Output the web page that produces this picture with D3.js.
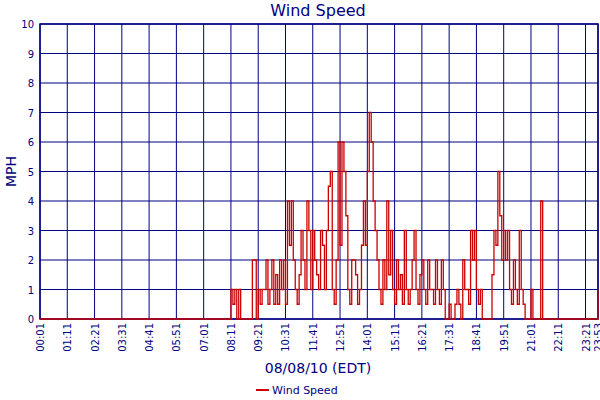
<!DOCTYPE html>
<html><head><style>body{margin:0;background:#fff}text{font-family:"DejaVu Sans",sans-serif}</style></head>
<body><svg width="600" height="400"></svg>
<script src="https://d3js.org/d3.v7.min.js"></script>
<script>
// wind speed readings, 5-minute steps starting 08:11
var startMin = 8 * 60 + 11;
var speeds = [1,0.5,1,0,1,0,0,0,0,0,0,2,2,0,1,0.5,1,1,2,0.5,1,2,0.5,1.5,0.5,2,1,2,0.5,4,2.5,4,2,1,0.5,1.5,3,2,1,4,3,1,3,2,1.5,1,3,2.5,1,3,4.5,5,1,0.5,2,6,2.5,6,5,3.5,1,0.5,2,2,1.5,0.5,1,2.5,4,2.5,5,7,6,4,3,2,1,0.5,2,1,4,1.5,3,1,0.5,2,1,1.5,0.5,3,1,0.5,1,2,3,1,0.5,1.5,2,1,0.5,2,1,1,0.5,2,1,0.5,2,1,0,0,0.5,0,0,0.5,1,0.5,0,2,1,1,0.5,3,2,3,1,0.5,1,0,0,0,0,0,1.5,3,2.5,5,3.5,2,3,2,3,1,0.5,2,1,0.5,3,1,0.5,0,0,0,1,0,0,0,0,4,0];
var tailTimes = ["23:48", "23:53"];
var tailSpeeds = [0, 1];
var tickLabels = ["00:01","01:11","02:21","03:31","04:41","05:51","07:01","08:11","09:21","10:31","11:41","12:51","14:01","15:11","16:21","17:31","18:41","19:51","21:01","22:11","23:21","23:53"];
var yTicks = d3.range(0, 11);

var toMin = function (s) { var p = s.split(":"); return +p[0] * 60 + +p[1]; };
var data = [{t: 1, v: 0}, {t: startMin - 1, v: 0}];
speeds.forEach(function (v, i) { data.push({t: startMin + i * 5, v: v}); });
tailTimes.forEach(function (s, i) { data.push({t: toMin(s), v: tailSpeeds[i]}); });

var navy = "#000080", red = "#cc0000";
var svg = d3.select("svg");
var pLeft = 40, pRight = 598, pTop = 24, pBottom = 319;
var x = d3.scaleLinear().domain([1, toMin("23:53")]).range([pLeft, pRight]);
var y = d3.scaleLinear().domain([0, 10]).range([pBottom, pTop]);

// grid
svg.append("g").selectAll("line").data(tickLabels).enter().append("line")
    .attr("x1", function (d) { return x(toMin(d)); }).attr("x2", function (d) { return x(toMin(d)); })
    .attr("y1", pTop).attr("y2", pBottom).attr("stroke", navy).attr("stroke-width", 1);
svg.append("g").selectAll("line").data(yTicks).enter().append("line")
    .attr("x1", pLeft).attr("x2", pRight).attr("y1", function (d) { return y(d); }).attr("y2", function (d) { return y(d); })
    .attr("stroke", navy).attr("stroke-width", 1);
svg.append("rect").attr("x", pLeft).attr("y", pTop).attr("width", pRight - pLeft).attr("height", pBottom - pTop)
    .attr("fill", "none").attr("stroke", navy).attr("stroke-width", 1.5);

// data
svg.append("path").datum(data)
    .attr("d", d3.line().x(function (d) { return x(d.t); }).y(function (d) { return y(d.v); }).curve(d3.curveStepAfter))
    .attr("fill", "none").attr("stroke", red).attr("stroke-width", 1.3);

// y labels
svg.append("g").selectAll("text").data(yTicks).enter().append("text")
    .attr("x", pLeft - 6).attr("y", function (d) { return y(d) + 4; })
    .attr("text-anchor", "end").attr("font-size", 10).attr("fill", navy).text(function (d) { return d; });
// x labels
svg.append("g").selectAll("text").data(tickLabels).enter().append("text")
    .attr("transform", function (d) { return "translate(" + (x(toMin(d)) + 4) + "," + (pBottom + 4) + ") rotate(-90)"; })
    .attr("text-anchor", "end").attr("font-size", 10).attr("fill", navy).text(function (d) { return d; });

svg.append("text").attr("x", 318).attr("y", 16).attr("text-anchor", "middle").attr("font-size", 16).attr("fill", navy).text("Wind Speed");
svg.append("text").attr("transform", "translate(16," + ((pTop + pBottom) / 2) + ") rotate(-90)")
    .attr("text-anchor", "middle").attr("font-size", 14).attr("fill", navy).text("MPH");
svg.append("text").attr("x", 318).attr("y", 373).attr("text-anchor", "middle").attr("font-size", 14).attr("fill", navy).text("08/08/10 (EDT)");
svg.append("line").attr("x1", 256).attr("x2", 269).attr("y1", 390).attr("y2", 390).attr("stroke", red).attr("stroke-width", 2);
svg.append("text").attr("x", 272).attr("y", 394).attr("font-size", 11).attr("fill", navy).text("Wind Speed");
</script></body></html>
